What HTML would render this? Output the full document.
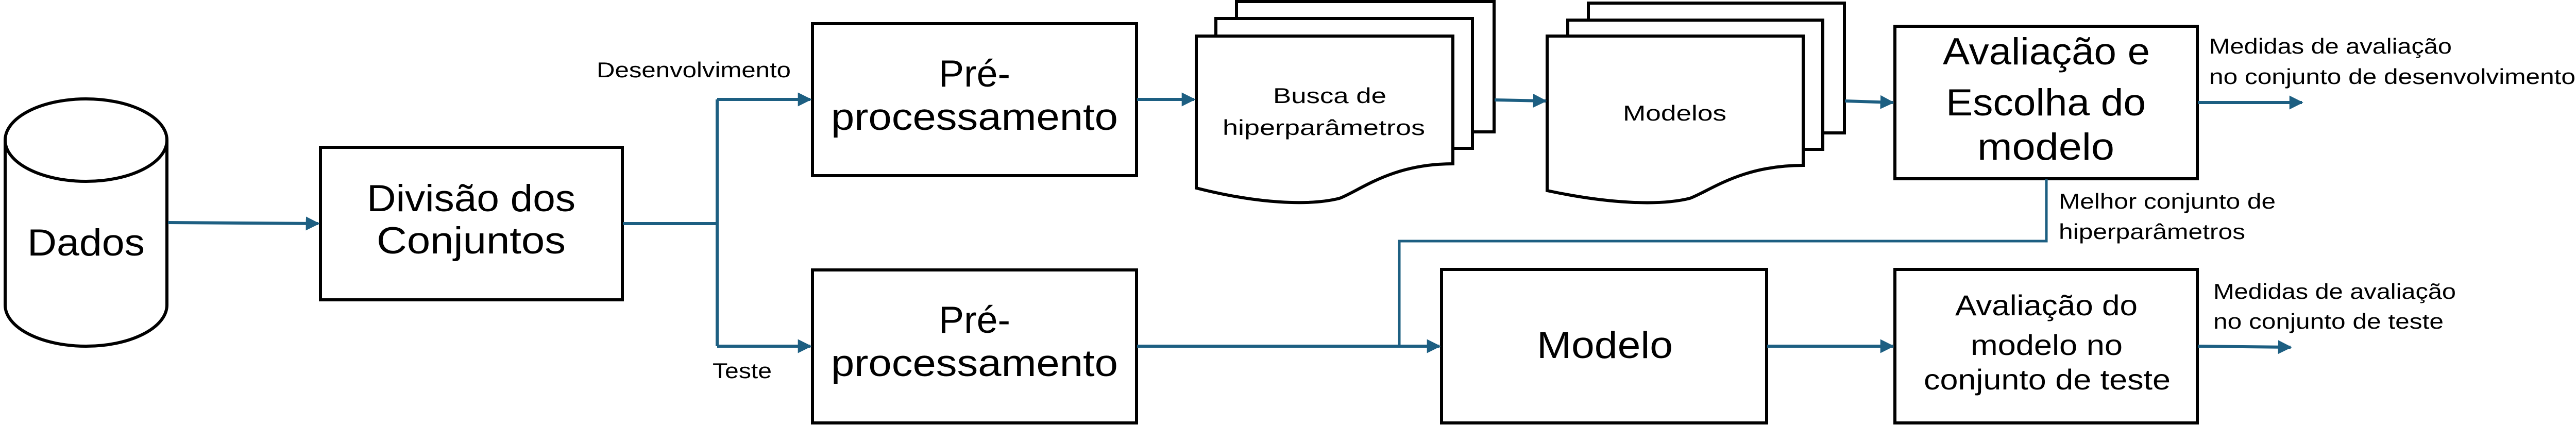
<!DOCTYPE html>
<html><head><meta charset="utf-8"><style>html,body{margin:0;padding:0;background:#fff}svg{display:block}text{font-family:"Liberation Sans",sans-serif;fill:#000}</style></head><body>
<svg width="5040" height="825" viewBox="0 0 5040 825" xmlns="http://www.w3.org/2000/svg">
<defs><marker id="a" viewBox="0 0 10 10" refX="9" refY="5" markerWidth="4.5" markerHeight="4.5" orient="auto" markerUnits="strokeWidth"><path d="M0,0 L10,5 L0,10 z" fill="#1d5f82"/></marker></defs>
<g fill="none" stroke="#000" stroke-width="6">
<!-- cylinder -->
<path d="M10,272 V592 A157,80 0 0 0 324,592 V272" fill="#fff"/>
<ellipse cx="167" cy="272" rx="157" ry="80" fill="#fff"/>
<rect x="622" y="286" width="586" height="296" fill="#fff"/>
<rect x="1577" y="46" width="629" height="295" fill="#fff"/>
<rect x="1577" y="524" width="629" height="297" fill="#fff"/>
<!-- busca stack -->
<path d="M2400,3 H2900 V256 H2400 Z" fill="#fff"/>
<path d="M2360,36 H2858 V288 H2360 Z" fill="#fff"/>
<path d="M2322,70 H2820 V318 C2700,318 2640,370 2600,385 C2540,400 2440,395 2322,365 Z" fill="#fff"/>
<!-- modelos stack -->
<path d="M3083,6 H3580 V258 H3083 Z" fill="#fff"/>
<path d="M3043,39 H3538 V290 H3043 Z" fill="#fff"/>
<path d="M3003,70 H3500 V321 C3380,321 3320,370 3280,385 C3220,400 3120,395 3003,370 Z" fill="#fff"/>
<rect x="3678" y="51" width="587" height="296" fill="#fff"/>
<rect x="2798" y="523" width="631" height="298" fill="#fff"/>
<rect x="3678" y="523" width="587" height="298" fill="#fff"/>
</g>
<g fill="none" stroke="#1d5f82" stroke-width="6">
<path d="M326,432 L618,434" marker-end="url(#a)"/>
<path d="M1209,434 H1392 M1392,193 V672"/>
<path d="M1392,193 H1573" marker-end="url(#a)"/>
<path d="M1392,672 H1573" marker-end="url(#a)"/>
<path d="M2207,193 H2318" marker-end="url(#a)"/>
<path d="M2901,194 L3000,196" marker-end="url(#a)"/>
<path d="M3581,196 L3674,199" marker-end="url(#a)"/>
<path d="M4266,199 H4468" marker-end="url(#a)"/>
<path d="M2207,672 H2794" marker-end="url(#a)"/>
<path d="M3972,348 V468 H2716 V672" stroke-width="5"/>
<path d="M3430,672 H3674" marker-end="url(#a)"/>
<path d="M4266,672 L4446,674" marker-end="url(#a)"/>
</g>
<g font-size="73" text-anchor="start" lengthAdjust="spacingAndGlyphs">
<text x="53" y="496" textLength="228" lengthAdjust="spacingAndGlyphs">Dados</text>
<text x="712" y="410" textLength="405" lengthAdjust="spacingAndGlyphs">Divisão dos</text>
<text x="731" y="492" textLength="367" lengthAdjust="spacingAndGlyphs">Conjuntos</text>
<text x="1822" y="168" textLength="139" lengthAdjust="spacingAndGlyphs">Pré-</text>
<text x="1613" y="252" textLength="557" lengthAdjust="spacingAndGlyphs">processamento</text>
<text x="1822" y="646" textLength="139" lengthAdjust="spacingAndGlyphs">Pré-</text>
<text x="1613" y="730" textLength="557" lengthAdjust="spacingAndGlyphs">processamento</text>
<text x="3771" y="125" textLength="402" lengthAdjust="spacingAndGlyphs">Avaliação e</text>
<text x="3777" y="224" textLength="388" lengthAdjust="spacingAndGlyphs">Escolha do</text>
<text x="3838" y="310" textLength="266" lengthAdjust="spacingAndGlyphs">modelo</text>
<text x="2983" y="695" textLength="264" lengthAdjust="spacingAndGlyphs">Modelo</text>
</g>
<g font-size="56">
<text x="3795" y="612" textLength="354" lengthAdjust="spacingAndGlyphs">Avaliação do</text>
<text x="3825" y="689" textLength="295" lengthAdjust="spacingAndGlyphs">modelo no</text>
<text x="3734" y="756" textLength="479" lengthAdjust="spacingAndGlyphs">conjunto de teste</text>
</g>
<g font-size="42">
<text x="1158" y="150" textLength="377" lengthAdjust="spacingAndGlyphs">Desenvolvimento</text>
<text x="1383" y="734" textLength="115" lengthAdjust="spacingAndGlyphs">Teste</text>
<text x="2471" y="200" textLength="220" lengthAdjust="spacingAndGlyphs">Busca de</text>
<text x="2373" y="262" textLength="393" lengthAdjust="spacingAndGlyphs">hiperparâmetros</text>
<text x="3150" y="234" textLength="201" lengthAdjust="spacingAndGlyphs">Modelos</text>
<text x="4288" y="104" textLength="471" lengthAdjust="spacingAndGlyphs">Medidas de avaliação</text>
<text x="4288" y="163" textLength="711" lengthAdjust="spacingAndGlyphs">no conjunto de desenvolvimento</text>
<text x="3996" y="405" textLength="421" lengthAdjust="spacingAndGlyphs">Melhor conjunto de</text>
<text x="3996" y="464" textLength="362" lengthAdjust="spacingAndGlyphs">hiperparâmetros</text>
<text x="4296" y="580" textLength="471" lengthAdjust="spacingAndGlyphs">Medidas de avaliação</text>
<text x="4296" y="638" textLength="447" lengthAdjust="spacingAndGlyphs">no conjunto de teste</text>
</g>
</svg>
</body></html>
